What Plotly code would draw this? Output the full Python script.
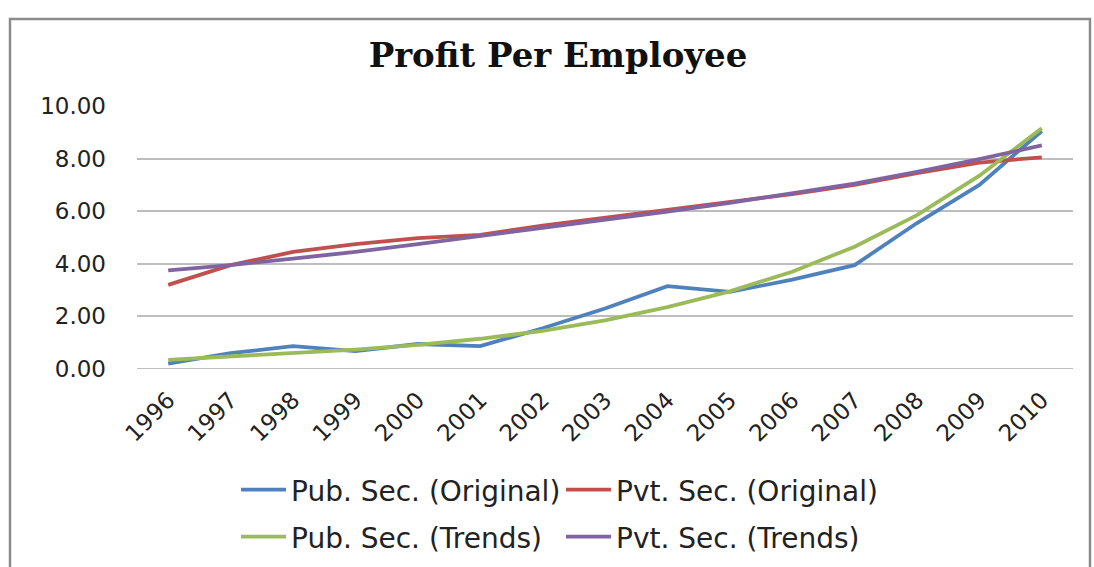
import plotly.graph_objects as go

years = [str(y) for y in range(1996, 2011)]

pub_original = [0.20, 0.60, 0.87, 0.68, 0.95, 0.87, 1.55, 2.30, 3.15, 2.93, 3.40, 3.95, 5.55, 7.00, 9.05]
pvt_original = [3.20, 3.95, 4.45, 4.75, 4.98, 5.10, 5.45, 5.75, 6.05, 6.35, 6.65, 7.00, 7.45, 7.85, 8.05]
pub_trends = [0.35, 0.48, 0.60, 0.74, 0.92, 1.15, 1.45, 1.85, 2.35, 2.95, 3.70, 4.65, 5.85, 7.35, 9.15]
pvt_trends = [3.75, 3.95, 4.20, 4.45, 4.75, 5.05, 5.35, 5.65, 5.98, 6.32, 6.68, 7.05, 7.50, 7.98, 8.50]

y_ticks = [0, 2, 4, 6, 8, 10]
y_labels = ["0.00", "2.00", "4.00", "6.00", "8.00", "10.00"]

series = [
    ("Pub. Sec. (Original)", pub_original, "#4F81BD", "legend"),
    ("Pvt. Sec. (Original)", pvt_original, "#C0504D", "legend"),
    ("Pub. Sec. (Trends)", pub_trends, "#9BBB59", "legend2"),
    ("Pvt. Sec. (Trends)", pvt_trends, "#8064A2", "legend2"),
]

fig = go.Figure()
for name, vals, color, lg in series:
    fig.add_trace(go.Scatter(
        x=years, y=vals, name=name, mode="lines",
        line=dict(color=color, width=3.8),
        legend=lg,
    ))

W, H = 1094, 567
L, R, T, B = 137, 21, 106, 198
pw, ph = W - L - R, H - T - B

def px_x(p):
    return (p - L) / pw

def px_y(p):
    return (H - B - p) / ph

legend_font = dict(family="DejaVu Sans", size=28, color="#222222")

fig.update_layout(
    width=W, height=H,
    margin=dict(l=L, r=R, t=T, b=B, autoexpand=False),
    paper_bgcolor="white", plot_bgcolor="white",
    title=dict(
        text="<b>Profit Per Employee</b>",
        font=dict(family="DejaVu Serif", size=34, color="#111111"),
        xref="container", x=558 / W, xanchor="center",
        y=1 - 55 / H, yanchor="middle",
    ),
    xaxis=dict(
        type="category", range=[-0.5, 14.5],
        tickangle=-45, showgrid=False, showline=False, ticks="",
        ticklabelstandoff=12,
        tickfont=dict(family="DejaVu Sans", size=23, color="#222222"),
        zeroline=False,
    ),
    yaxis=dict(
        range=[0, 10], tickvals=y_ticks, ticktext=y_labels,
        showgrid=True, gridcolor="#BDBDBD", gridwidth=2,
        zeroline=False, showline=False, ticks="",
        ticklabelstandoff=30,
        tickfont=dict(family="DejaVu Sans", size=23, color="#222222"),
    ),
    legend=dict(
        orientation="h", x=px_x(236), xanchor="left",
        y=px_y(490), yanchor="middle",
        entrywidth=265, entrywidthmode="pixels",
        itemwidth=45, font=legend_font, bgcolor="rgba(0,0,0,0)",
    ),
    legend2=dict(
        orientation="h", x=px_x(236), xanchor="left",
        y=px_y(537), yanchor="middle",
        entrywidth=265, entrywidthmode="pixels",
        itemwidth=45, font=legend_font, bgcolor="rgba(0,0,0,0)",
    ),
    shapes=[
        # zero baseline
        dict(type="line", xref="paper", yref="y", x0=0, x1=1, y0=0, y1=0,
             line=dict(color="#BDBDBD", width=2)),
        # chart frame
        dict(type="rect", xref="paper", yref="paper",
             x0=px_x(10), x1=px_x(1090), y0=px_y(600), y1=px_y(19),
             line=dict(color="#8C8C8C", width=2.5), layer="below"),
    ],
)

fig.write_html("out.html")
